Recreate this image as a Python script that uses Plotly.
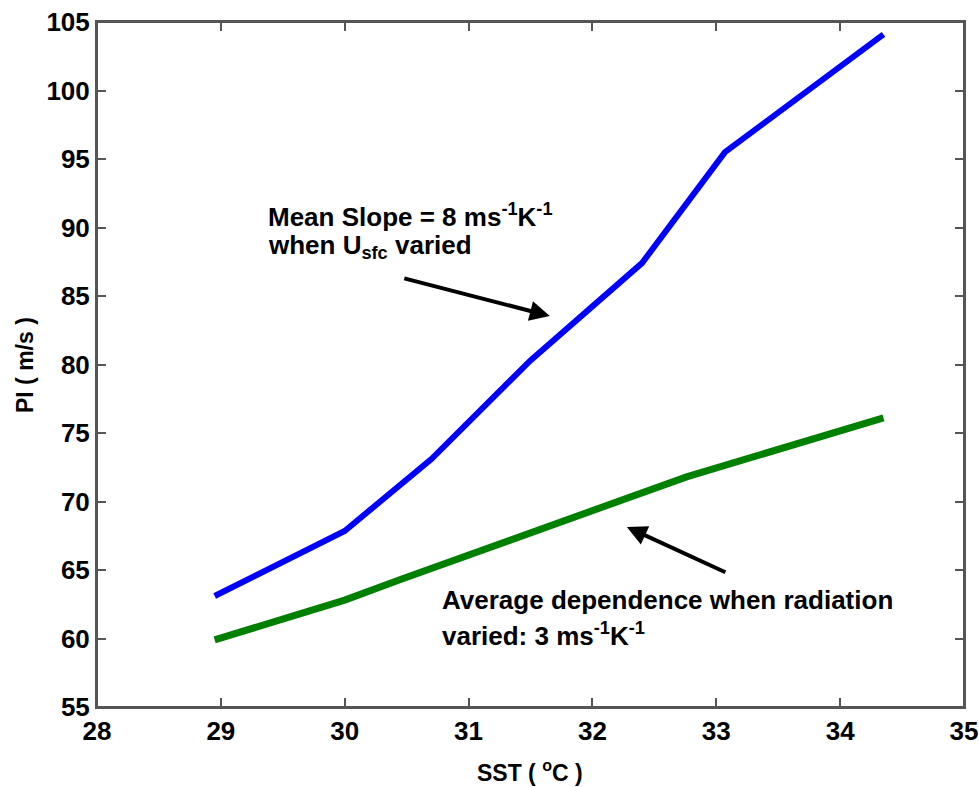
import plotly.graph_objects as go

# Data
sst_blue = [28.95, 30.0, 30.7, 31.5, 32.4, 33.07, 34.35]
pi_blue = [63.1, 67.85, 73.1, 80.3, 87.4, 95.5, 104.1]

sst_green = [28.95, 30.0, 30.45, 31.5, 32.76, 34.35]
pi_green = [59.9, 62.8, 64.3, 67.7, 71.8, 76.1]

x_ticks = [28, 29, 30, 31, 32, 33, 34, 35]
y_ticks = [55, 60, 65, 70, 75, 80, 85, 90, 95, 100, 105]
x_range = [28, 35]
y_range = [55, 105.0001]

FONT = "Liberation Sans, Arial, sans-serif"

W, H = 979, 787
L, R, T, B = 97, 15, 22, 80
pw, ph = W - L - R, H - T - B

def px2paper(px, py):
    return (px - L) / pw, 1 - (py - T) / ph

fig = go.Figure()
fig.add_trace(go.Scatter(x=sst_blue, y=pi_blue, mode="lines",
                         line=dict(color="#0000ff", width=6), showlegend=False))
fig.add_trace(go.Scatter(x=sst_green, y=pi_green, mode="lines",
                         line=dict(color="#008000", width=7), showlegend=False))

axis_common = dict(showline=True, linecolor="#555555", linewidth=2, mirror="ticks",
                   ticks="inside", ticklen=9, tickcolor="#555555", tickwidth=2,
                   showgrid=False, zeroline=False, automargin=False,
                   tickfont=dict(family=FONT, size=26, color="black", weight="bold"))

fig.update_layout(
    xaxis=dict(range=x_range, tickvals=x_ticks, ticktext=[str(v) for v in x_ticks],
               **axis_common),
    yaxis=dict(range=y_range, tickvals=y_ticks, ticktext=[str(v) for v in y_ticks],
               **axis_common),
)

# plot frame
fig.add_shape(type="rect", xref="paper", yref="paper", x0=0, y0=0, x1=1, y1=1,
              line=dict(color="#555555", width=2), fillcolor="rgba(0,0,0,0)", layer="above")

title_font = dict(family=FONT, size=23, color="black")
# axis titles
tx, ty = px2paper(530, 771)
fig.add_annotation(x=tx, y=ty, xref="paper", yref="paper", xanchor="center", yanchor="middle",
                   text="<b>SST ( <sup>o</sup>C )</b>", showarrow=False, font=title_font)
tx, ty = px2paper(25, 365)
fig.add_annotation(x=tx, y=ty, xref="paper", yref="paper", xanchor="center", yanchor="middle",
                   text="<b>PI ( m/s )</b>", showarrow=False, textangle=-90, font=title_font)

ann_font = dict(family=FONT, size=26, color="black")
text_lines = [
    (266, 197, "<b>Mean Slope = 8 ms<sup>-1</sup>K<sup>-1</sup></b>"),
    (266, 228, "<b>when U<sub>sfc</sub> varied</b>"),
    (440, 583, "<b>Average dependence when radiation</b>"),
    (440, 616, "<b>varied: 3 ms<sup>-1</sup>K<sup>-1</sup></b>"),
]
for px, py, txt in text_lines:
    ax_, ay_ = px2paper(px, py)
    fig.add_annotation(x=ax_, y=ay_, xref="paper", yref="paper", xanchor="left", yanchor="top",
                       text=txt, showarrow=False, align="left", font=ann_font)

# arrows
fig.add_annotation(x=31.656, y=83.54, xref="x", yref="y", text="", showarrow=True,
                   ax=-147, ay=-38, arrowhead=2, arrowsize=1.0, arrowwidth=4, arrowcolor="black")
fig.add_annotation(x=32.278, y=68.14, xref="x", yref="y", text="", showarrow=True,
                   ax=100, ay=46, arrowhead=2, arrowsize=1.0, arrowwidth=4, arrowcolor="black")

fig.update_layout(width=W, height=H, margin=dict(l=L, r=R, t=T, b=B, autoexpand=False),
                  plot_bgcolor="white", paper_bgcolor="white",
                  font=dict(family=FONT, color="black"))

fig.write_html(
    "out.html",
    config={"displayModeBar": False},
    post_script=(
        "document.body.style.margin='0';"
        "document.body.style.overflow='hidden';"
        "document.documentElement.style.overflow='hidden';"
    ),
)
